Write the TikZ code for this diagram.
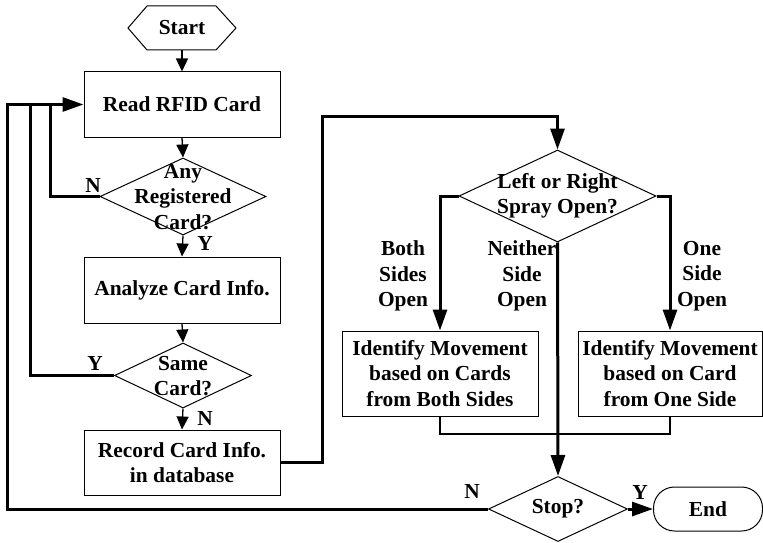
\documentclass[tikz,border=0pt]{standalone}
\usepackage{fontspec}
\setmainfont{Liberation Serif}
\usetikzlibrary{arrows.meta,shapes.geometric}
\begin{document}
\begin{tikzpicture}[x=1pt,y=-1pt,
  every node/.style={font=\fontsize{21.4}{25.5}\selectfont\bfseries, inner sep=0pt},
  procbox/.style={draw, line width=1pt, minimum width=196pt, minimum height=65pt, align=center},
  decide/.style={draw, line width=1pt, diamond, inner sep=0pt},
  dtext/.style={align=center},
  thin arrow/.style={line width=1.3pt, -{Triangle[length=13pt,width=12pt]}},
  thick arrow/.style={line width=3pt, -{Triangle[length=21pt,width=14pt]}},
  thick line/.style={line width=3pt},
  lbl/.style={font=\fontsize{21.4}{25.5}\selectfont\bfseries, align=center}
]
\useasboundingbox (0,0) rectangle (763,543);
% Start hexagon
\draw[line width=1pt] (128,28) -- (147,6) -- (216,6) -- (236,28) -- (216,50) -- (147,50) -- cycle;
\node[minimum width=108pt, minimum height=44pt] (start) at (182,28) {Start};
% Left column
\node[procbox] (read) at (182,104.5) {Read RFID Card};
\node[decide, minimum width=166pt, minimum height=77pt] (d1) at (183,196.5) {};
\node[dtext] (d1t) at (183,197) {Any\\Registered\\Card?};
\node[procbox, minimum height=66pt] (analyze) at (182,290) {Analyze Card Info.};
\node[decide, minimum width=137pt, minimum height=65pt] (same) at (183,375.5) {};
\node[dtext] (samet) at (183,376) {Same\\Card?};
\node[procbox] (record) at (182,462.5) {Record Card Info.\\in database};
% Right part
\node[decide, minimum width=197pt, minimum height=92pt] (lr) at (557.5,196) {};
\node[dtext] (lrt) at (557.5,196) {Left or Right\\Spray Open?};
\node[procbox, minimum width=196pt, minimum height=85pt] (box1) at (440,373.5) {Identify Movement\\based on Cards\\from Both Sides};
\node[procbox, minimum width=184pt, minimum height=85pt] (box2) at (670,373.5) {Identify Movement\\based on Card\\from One Side};
\node[decide, minimum width=139pt, minimum height=65pt] (stop) at (558,509) {};
\node[dtext] (stopt) at (558,509) {Stop?};
\node[draw, line width=1pt, rounded corners=21pt, minimum width=109pt, minimum height=44pt] (end) at (708,509) {End};
% Connectors left column
\draw[thin arrow] (start.south) -- (read.north);
\draw[thin arrow] (read.south) -- (d1.north);
\draw[thin arrow] (d1.south) -- (analyze.north);
\draw[thin arrow] (analyze.south) -- (same.north);
\draw[thin arrow] (same.south) -- (record.north);
\node[lbl] (y1) at (205,243) {Y};
\node[lbl] (n2) at (205,418) {N};
% loop backs
\draw[thick arrow] (stop.west) -- (7,509) -- (7,104.5) -- (read.west);
\draw[thick line] (d1.west) -- (50,196.5) -- (50,104.5);
\draw[thick line] (same.west) -- (30,375.5) -- (30,104.5);
\node[lbl] (n1) at (93,185) {N};
\node[lbl] (y2) at (95,363) {Y};
% record to lr
\draw[thick arrow] (record.east) -- (322,462.5) -- (322,116) -- (557.5,116) -- (lr.north);
% lr branches
\draw[thick arrow] (lr.west) -- (440,196) -- (box1.north);
\draw[thick arrow] (lr.east) -- (670,196) -- (box2.north);
\draw[thick arrow] (lr.south) -- (stop.north);
\draw[line width=2pt] (box1.south) -- ++(0,17) -| (box2.south);
\node[lbl] (bso) at (403,276) {Both\\Sides\\Open};
\node[lbl] (nso) at (522,276) {Neither\\Side\\Open};
\node[lbl] (oso) at (702,276) {One\\Side\\Open};
% stop to end
\draw[thick arrow] (stop.east) -- (end.west);
\node[lbl] (y3) at (640,492) {Y};
\node[lbl] (n3) at (472,491) {N};
\end{tikzpicture}
\end{document}
